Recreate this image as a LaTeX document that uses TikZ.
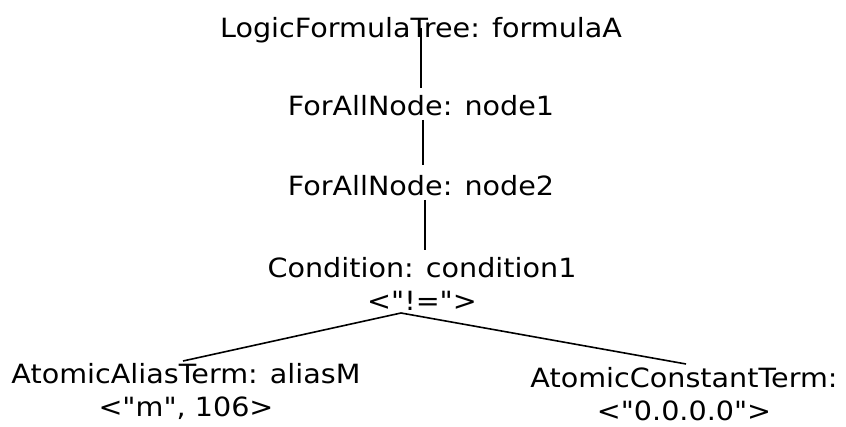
\documentclass[tikz,border=0pt]{standalone}
\usepackage{fontspec}
\setmainfont{DejaVu Sans}[Ligatures=TeXOff]
\begin{document}
\begin{tikzpicture}[x=1pt,y=-1pt,
  lbl/.style={inner sep=0pt,font=\fontsize{26.5}{33}\selectfont,align=center,xscale=1.08},
  edge/.style={draw=black,line width=1.6pt}]
\useasboundingbox (0,0) rectangle (846,427);
\node[lbl] (tree) at (421,30) {LogicFormulaTree: formulaA};
\node[lbl] (n1) at (421,106) {ForAllNode: node1};
\node[lbl] (n2) at (421,186) {ForAllNode: node2};
\node[lbl] (cond) at (422,284) {Condition: condition1\\<"!=">};
\node[lbl] (alias) at (186,391) {AtomicAliasTerm: aliasM\\<"m", 106>};
\node[lbl] (const) at (684,394) {AtomicConstantTerm:\\<"0.0.0.0">};
\coordinate (t0) at (421,28);
\coordinate (t1) at (421,88);
\coordinate (a0) at (423,120);
\coordinate (a1) at (423,165);
\coordinate (b0) at (425,200);
\coordinate (b1) at (425,250);
\coordinate (c0) at (401,313);
\coordinate (l1) at (183,361);
\coordinate (r1) at (686,364);
\draw[edge] (t0) -- (t1);
\draw[edge] (a0) -- (a1);
\draw[edge] (b0) -- (b1);
\draw[edge] (c0) -- (l1);
\draw[edge] (c0) -- (r1);
\end{tikzpicture}
\end{document}
